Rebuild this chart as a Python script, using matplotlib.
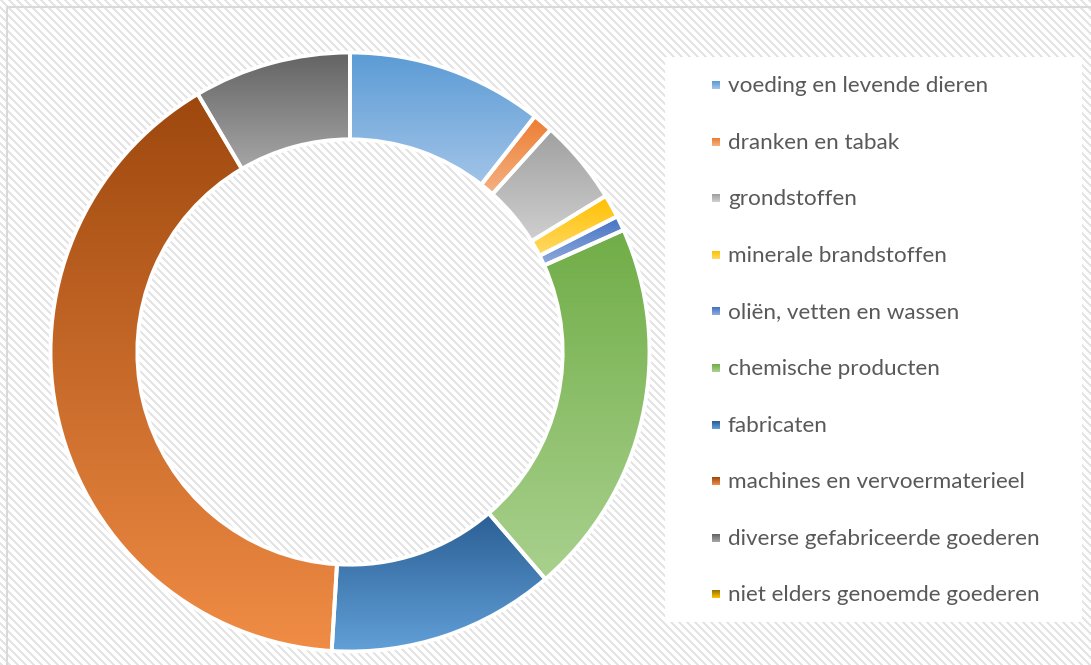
import numpy as np
import matplotlib
matplotlib.use("Agg")
import matplotlib.pyplot as plt
from matplotlib.colors import LinearSegmentedColormap
from matplotlib.patches import Rectangle

W, H = 1091, 665

# data (share in %)
categories = ["voeding en levende dieren", "dranken en tabak", "grondstoffen",
              "minerale brandstoffen", "oliën, vetten en wassen", "chemische producten",
              "fabricaten", "machines en vervoermaterieel",
              "diverse gefabriceerde goederen", "niet elders genoemde goederen"]
values = [10.6, 1.1, 4.6, 1.25, 0.8, 20.4, 12.3, 40.6, 8.5, 0.0]

# gradient colours (top, bottom) per slice
top_colors = ["#5b9bd5", "#ed7d31", "#a0a0a0", "#ffc000", "#4472c4", "#70ad47",
              "#2a5f94", "#9e480e", "#636363", "#997300"]
bottom_colors = ["#a2c4e8", "#f4b183", "#cfcfcf", "#ffd966", "#8faadc", "#a9d18e",
                 "#62a0d8", "#f08c45", "#a6a6a6", "#ffc000"]

fig = plt.figure(figsize=(W / 100, H / 100), dpi=100)

# background with diagonal stripe pattern
bg = fig.add_axes([0, 0, 1, 1])
yy, xx = np.mgrid[0:H, 0:W]
stripes = ((xx - yy) % 8) < 3
img = np.ones((H, W, 3))
img[stripes] = 0.895
bg.imshow(img, extent=[0, W, H, 0], interpolation="nearest", aspect="auto")
bg.add_patch(Rectangle((7, 7), W, H, fill=False, edgecolor="#d9d9d9", lw=1.5))
bg.set_xlim(0, W)
bg.set_ylim(H, 0)
bg.axis("off")

# legend box
bg.add_patch(Rectangle((665, 57), 417, 565, facecolor="white", edgecolor="none"))

# donut
cx, cy, r = 350, 352, 301
ax = fig.add_axes([(cx - r) / W, (H - cy - r) / H, 2 * r / W, 2 * r / H])
wedges, _ = ax.pie(values, startangle=90, counterclock=False, radius=1,
                   wedgeprops=dict(width=0.29, edgecolor="white", linewidth=2.8,
                                   facecolor="none"))
for w, c0, c1, v in zip(wedges, top_colors, bottom_colors, values):
    w.set_zorder(3)
    if v <= 0:
        continue
    cmap = LinearSegmentedColormap.from_list("g", [c0, c1])
    ext = w.get_path().get_extents()
    grad = np.linspace(0, 1, 256).reshape(-1, 1)
    im = ax.imshow(grad, cmap=cmap, extent=[ext.x0, ext.x1, ext.y0, ext.y1],
                   aspect="auto", zorder=2, interpolation="bilinear")
    im.set_clip_path(w)
ax.set_xlim(-1.005, 1.005)
ax.set_ylim(-1.005, 1.005)
ax.axis("off")

# legend entries
ys = [86 + i * 56.6 for i in range(len(categories))]
for y, name, c0, c1 in zip(ys, categories, top_colors, bottom_colors):
    cmap = LinearSegmentedColormap.from_list("g", [c0, c1])
    grad = np.linspace(0, 1, 16).reshape(-1, 1)
    bg.imshow(grad, cmap=cmap, extent=[712, 720, y + 3, y - 5], aspect="auto",
              zorder=4)
    bg.text(728, y, name, fontsize=16.2, family="Lato", color="#595959",
            va="center", ha="left", zorder=4)
bg.set_xlim(0, W)
bg.set_ylim(H, 0)

fig.savefig("out.png", dpi=100)
